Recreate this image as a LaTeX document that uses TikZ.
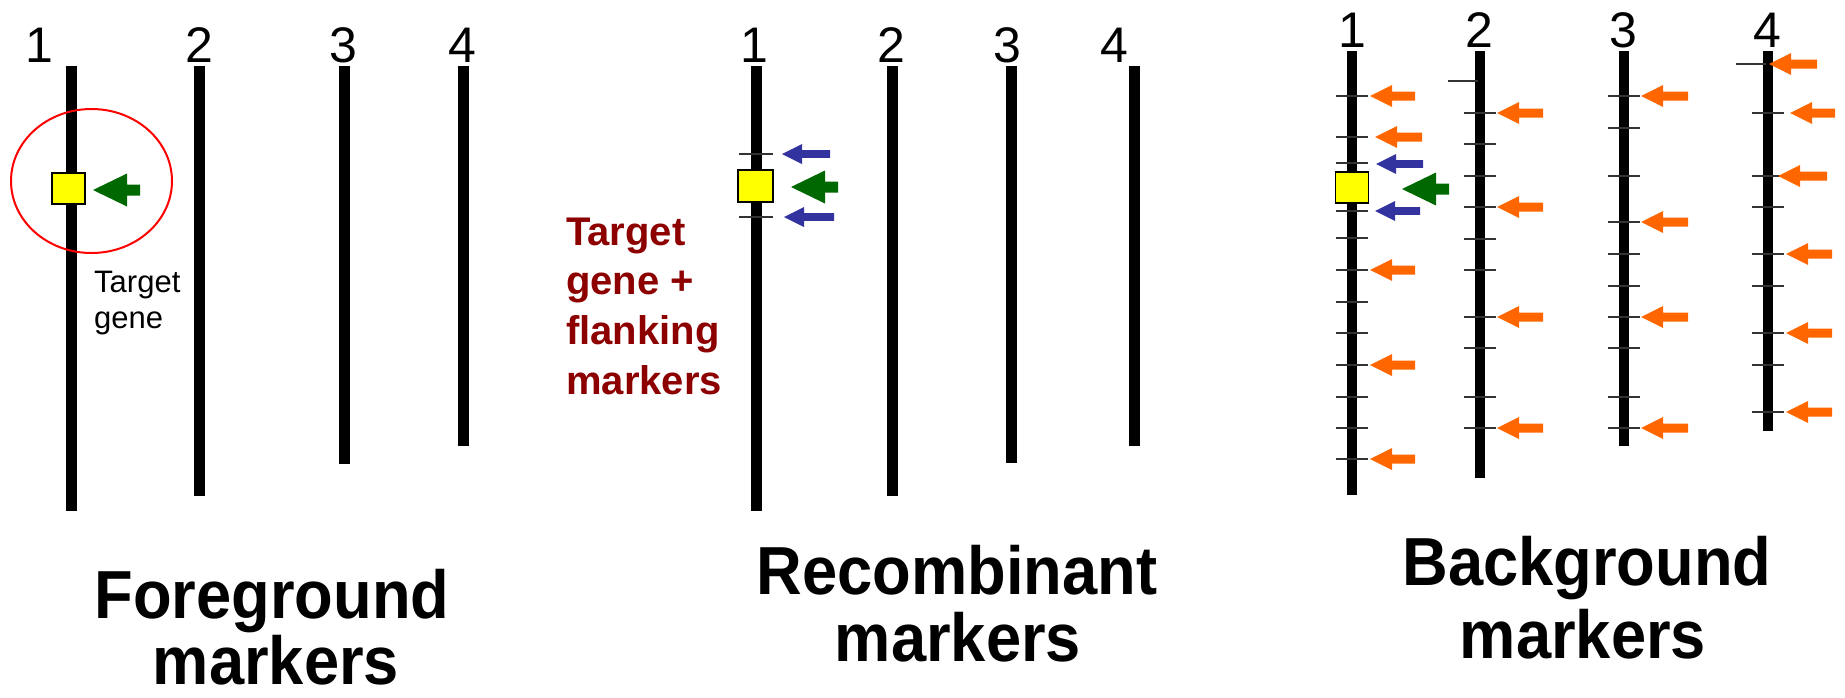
\documentclass[tikz,border=0pt]{standalone}
\usepackage{fontspec}
\setmainfont{Liberation Sans}
\newfontfamily\ttlfont{Liberation Sans}[FakeStretch=0.93]
\usetikzlibrary{shapes.geometric}
\definecolor{gr}{RGB}{0,104,0}
\definecolor{bl}{RGB}{51,51,160}
\definecolor{orn}{RGB}{255,102,0}
\definecolor{drd}{RGB}{140,0,0}
\definecolor{yel}{RGB}{255,255,0}
\newcommand{\blkarr}[7]{\fill[#1] (#2,#3) -- (#4,#3-#6) -- (#4,#3-#7) -- (#5,#3-#7) -- (#5,#3+#7) -- (#4,#3+#7) -- (#4,#3+#6) -- cycle;}
\newcommand{\garr}[2]{\blkarr{gr}{#1}{#2}{#1+34}{#1+47}{16.5}{5.5}}
\newcommand{\barr}[3]{\blkarr{bl}{#1}{#2}{#1+20}{#3}{10}{3.8}}
\newcommand{\oarr}[3]{\blkarr{orn}{#1}{#2}{#1+22}{#3}{11}{4.5}}
\tikzset{
  chromA/.style={line width=11pt, black},
  chromB/.style={line width=10pt, black},
  tick/.style={line width=1.8pt, black!80},
  gene/.style={draw=black, line width=1.5pt, fill=yel, inner sep=0pt},
  num/.style={anchor=base, inner sep=0pt, font=\fontsize{50}{50}\selectfont},
  ttl/.style={anchor=base, inner sep=0pt, text height=50pt, text depth=0pt, font=\ttlfont\bfseries\fontsize{68}{68}\selectfont},
  rtxt/.style={anchor=base west, inner sep=0pt, text=drd, font=\bfseries\fontsize{40}{40}\selectfont},
  btxt/.style={anchor=base west, inner sep=0pt, font=\fontsize{31}{31}\selectfont},
}
\begin{document}
\begin{tikzpicture}[x=1pt,y=-1pt]
\useasboundingbox (0,0) rectangle (1845,697);
% ---------- Panel 1: Foreground ----------
\draw[chromA] (71.5,66) -- (71.5,511);
\draw[chromA] (199,66) -- (199,496);
\draw[chromA] (344,66) -- (344,464);
\draw[chromA] (463,66) -- (463,446);
\node[num] (p1n1) at (39,62) {1};
\node[num] (p1n2) at (199,62) {2};
\node[num] (p1n3) at (343,62) {3};
\node[num] (p1n4) at (462,62) {4};
\node[gene, minimum width=33pt, minimum height=31pt] (p1g) at (68.5,188.5) {};
\garr{93}{190}
\node[draw=red, line width=2pt, ellipse, inner sep=0pt, minimum width=161pt, minimum height=144pt] (p1e) at (91.5,181) {};
\node[btxt] (p1t1) at (94,292) {Target};
\node[btxt] (p1t2) at (94,328) {gene};
\node[ttl] (p1h1) at (272,618) {Foreground};
\node[ttl] (p1h2) at (276,684) {markers};
% ---------- Panel 2: Recombinant ----------
\draw[chromA] (756,66) -- (756,511);
\draw[chromA] (892,66) -- (892,496);
\draw[chromA] (1011,66) -- (1011,463);
\draw[chromA] (1134,66) -- (1134,446);
\node[num] (p2n1) at (754,62) {1};
\node[num] (p2n2) at (891,62) {2};
\node[num] (p2n3) at (1007,62) {3};
\node[num] (p2n4) at (1114,62) {4};
\draw[tick] (739,154) -- (773,154);
\draw[tick] (739,217) -- (773,217);
\node[gene, minimum width=35pt, minimum height=32pt] (p2g) at (755.5,186) {};
\barr{782}{154}{830}
\barr{784}{217}{834}
\garr{791}{187}
\node[rtxt] (p2t1) at (566,245) {Target};
\node[rtxt] (p2t2) at (566,294) {gene +};
\node[rtxt] (p2t3) at (566,344) {flanking};
\node[rtxt] (p2t4) at (566,394) {markers};
\node[ttl] (p2h1) at (957,594) {Recombinant};
\node[ttl] (p2h2) at (958,661) {markers};
% ---------- Panel 3: Background ----------
\draw[chromB] (1352,51) -- (1352,495);
\draw[chromB] (1480,51) -- (1480,478);
\draw[chromB] (1624,51) -- (1624,446);
\draw[chromB] (1768,51) -- (1768,431);
\node[num] (p3n1) at (1352,47) {1};
\node[num] (p3n2) at (1479,47) {2};
\node[num] (p3n3) at (1623,47) {3};
\node[num] (p3n4) at (1767,47) {4};
\foreach \y in {96,137,163,211,238,270,302,333,365,397,428,459}
  \draw[tick] (1336,\y) -- (1368,\y);
\draw[tick] (1448,81) -- (1478,81);
\foreach \y in {113,144,176,207,239,270,317,348,397,428}
  \draw[tick] (1464,\y) -- (1496,\y);
\foreach \y in {96,128,176,222,254,286,317,348,397,428}
  \draw[tick] (1608,\y) -- (1640,\y);
\draw[tick] (1736,64) -- (1766,64);
\foreach \y in {113,176,207,254,286,333,365,412}
  \draw[tick] (1752,\y) -- (1784,\y);
\node[gene, minimum width=33pt, minimum height=31pt] (p3g) at (1352,187.5) {};
\garr{1402}{189}
\barr{1376}{164}{1423}
\barr{1375}{211}{1420}
\oarr{1370}{96}{1415}
\oarr{1375}{137}{1422}
\oarr{1370}{270}{1415}
\oarr{1370}{365}{1415}
\oarr{1370}{459}{1415}
\foreach \y in {113,207,317,428} { \oarr{1497}{\y}{1543} }
\foreach \y in {96,222,317,428} { \oarr{1641}{\y}{1688} }
\oarr{1769}{64}{1817}
\oarr{1790}{113}{1835}
\oarr{1778}{176}{1827}
\foreach \y in {254,333,412} { \oarr{1786}{\y}{1832} }
\node[ttl] (p3h1) at (1587,585) {Background};
\node[ttl] (p3h2) at (1583,658) {markers};
\end{tikzpicture}
\end{document}
